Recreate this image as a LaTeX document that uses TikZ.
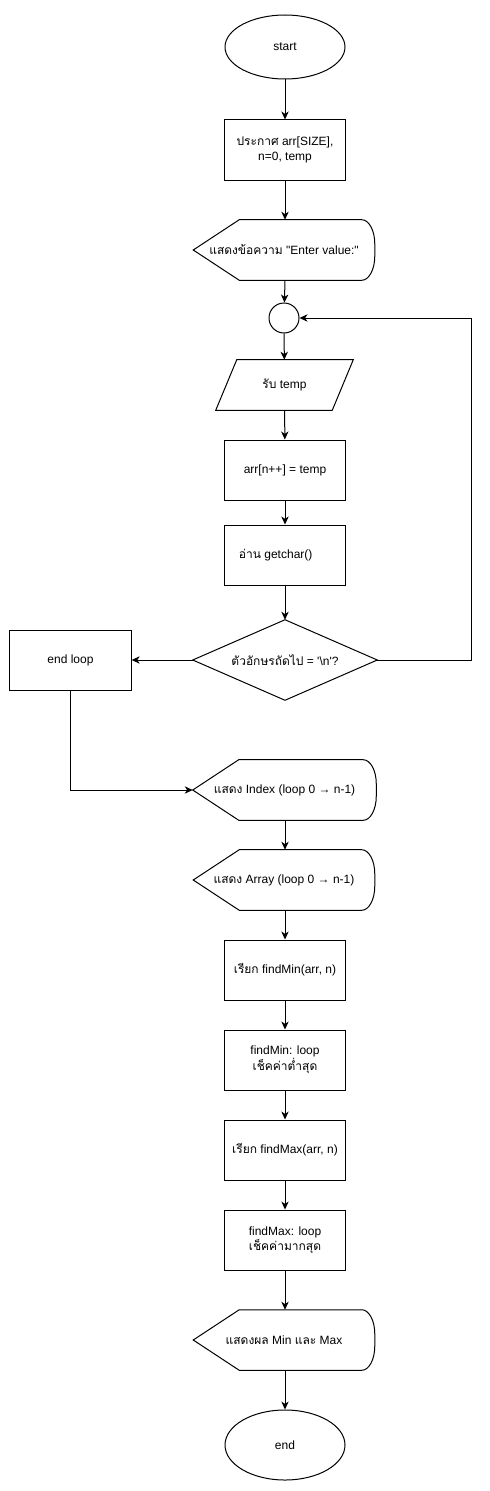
\documentclass[tikz,border=0pt]{standalone}
\usepackage{fontspec}
\setmainfont{Liberation Sans}[Ligatures=TeXOff]
\newfontfamily\thai[Script=Thai]{Loma}
\usetikzlibrary{calc,arrows.meta,shapes.geometric}
\tikzset{
  every node/.style={font=\fontsize{9pt}{11pt}\selectfont, align=center, inner sep=0pt},
  conn/.style={line width=0.75pt, -{Stealth[length=6pt,width=5.5pt,inset=1.8pt]}},
  shp/.style={line width=0.75pt},
  term/.style={ellipse, draw, shp, minimum width=90pt},
  proc/.style={rectangle, draw, shp, minimum width=91pt, minimum height=45pt},
  dispbox/.style={rectangle, minimum width=135.75pt, minimum height=45pt},
  iobox/.style={rectangle, minimum width=102.75pt, minimum height=37.5pt},
  decbox/.style={rectangle, minimum width=138pt, minimum height=60pt},
  joint/.style={circle, draw, shp, minimum size=22.5pt},
}
\newcommand\dispoutline[1]{%
  \draw[shp] (#1.west) -- ($(#1.north west)+(46,0)$) -- ($(#1.north east)+(-13,0)$)
   .. controls ($(#1.north east)+(-5.8,0)$) and ($(#1.north east)+(0,10.8)$) .. ($(#1.north east)+(0,24)$)
   -- ($(#1.south east)+(0,-24)$)
   .. controls ($(#1.south east)+(0,-10.8)$) and ($(#1.south east)+(-5.8,0)$) .. ($(#1.south east)+(-13,0)$)
   -- ($(#1.south west)+(46,0)$) -- cycle;}
\begin{document}
\begin{tikzpicture}[x=0.75pt,y=-0.75pt]
\useasboundingbox[fill=white] (0,0) rectangle (489,1491);

\node[term, minimum height=48pt] (start) at (285,47) {start};
\node[proc] (decl) at (285,150) {{\thai ประกาศ} arr[SIZE],\\n=0, temp};
\node[dispbox] (disp1) at (284,250) {{\thai แสดงข้อความ} "Enter value:"};
\node[joint] (circ) at (284,318) {};
\node[iobox] (input) at (284.5,385) {{\thai รับ} temp};
\node[proc] (assign) at (285,470) {arr[n++] = temp};
\node[proc] (getc) at (285,555) {{\thai อ่าน} getchar()\hspace*{14pt}};
\node[decbox] (dec) at (285,660) {{\thai ตัวอักษรถัดไป} = '\textbackslash n'?};
\node[proc] (endloop) at (70.5,660) {end loop};
\node[dispbox, minimum width=137.25pt] (disp2) at (284.5,790) {{\thai แสดง} Index (loop 0 → n-1)};
\node[dispbox] (disp3) at (284,880) {{\thai แสดง} Array (loop 0 → n-1)};
\node[proc] (callmin) at (285,970) {{\thai เรียก} findMin(arr, n)};
\node[proc] (minloop) at (285,1060) {findMin: loop\\{\thai เช็คค่าต่ำสุด}};
\node[proc] (callmax) at (285,1150) {{\thai เรียก} findMax(arr, n)};
\node[proc] (maxloop) at (285,1240) {findMax: loop\\{\thai เช็คค่ามากสุด}};
\node[dispbox] (disp4) at (284,1340) {{\thai แสดงผล} Min {\thai และ} Max};
\node[term, minimum height=52.5pt] (end) at (285,1445) {end};

\dispoutline{disp1}
\dispoutline{disp2}
\dispoutline{disp3}
\dispoutline{disp4}
\draw[shp] ($(input.north west)+(21,0)$) -- (input.north east) -- ($(input.south east)+(-21,0)$) -- (input.south west) -- cycle;
\draw[shp] (dec.west) -- (dec.north) -- (dec.east) -- (dec.south) -- cycle;

\coordinate (loopR) at (471,318);

\draw[conn] (start) -- (decl);
\draw[conn] (decl) -- (disp1.north -| decl.south);
\draw[conn] (disp1.south -| decl.south) -- (circ);
\draw[conn] (circ) -- (input);
\draw[conn] (input) -- (assign);
\draw[conn] (assign) -- (getc);
\draw[conn] (getc) -- (dec.north);
\draw[conn] (dec.west) -- (endloop.east);
\draw[conn] (dec.east) -| (loopR) -- (circ.east);
\draw[conn] (endloop.south) |- (disp2.west);
\draw[conn] (disp2.south -| decl.south) -- (disp3.north -| decl.south);
\draw[conn] (disp3.south -| decl.south) -- (callmin);
\draw[conn] (callmin) -- (minloop);
\draw[conn] (minloop) -- (callmax);
\draw[conn] (callmax) -- (maxloop);
\draw[conn] (maxloop) -- (disp4.north -| maxloop.south);
\draw[conn] (disp4.south -| maxloop.south) -- (end);
\end{tikzpicture}
\end{document}
